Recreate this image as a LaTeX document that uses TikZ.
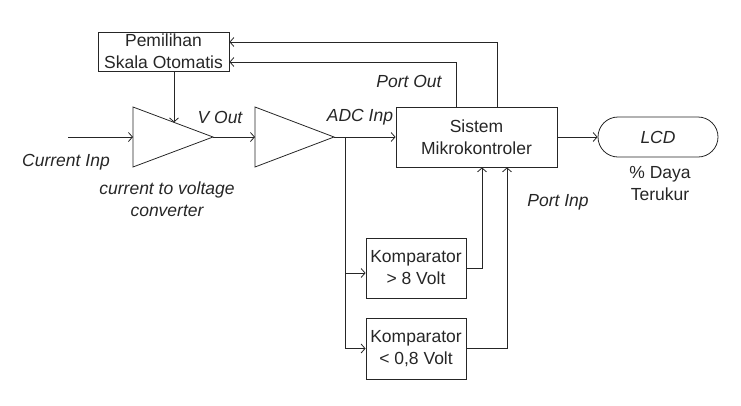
\documentclass[tikz,border=0pt]{standalone}
\usepackage{fontspec}
\setmainfont{Liberation Sans}
\usetikzlibrary{arrows.meta}
\tikzset{
  blok/.style={draw, minimum width=#1, minimum height=60pt, align=center, inner sep=0pt},
  lbl/.style={font=\fontsize{17.5}{22}\selectfont\itshape},
  panah/.style={-{Straight Barb[length=4pt,width=9pt]}}
}
\begin{document}
\begin{tikzpicture}[x=1pt,y=-1pt,line width=0.8pt,color=black!85,
    font=\fontsize{17.5}{22}\selectfont]
    \useasboundingbox (0,0) rectangle (741,405);
    % blok
    \node[blok=131pt, minimum height=39pt] (skala) at (163.5,51.5) {Pemilihan\\Skala Otomatis};
    \node[blok=161pt] (mikro) at (476.5,137) {Sistem\\Mikrokontroler};
    \node[blok=100pt] (komp1) at (416,268) {Komparator\\> 8 Volt};
    \node[blok=100pt, minimum height=61pt] (komp2) at (416,348.5) {Komparator\\< 0,8 Volt};
    \node[draw, rounded corners=20pt, minimum width=120pt, minimum height=40pt] (lcd) at (658,137) {\itshape LCD};
    % penguat
    \coordinate (a1in) at (133,137);
    \coordinate (a1out) at (213,137);
    \coordinate (a2in) at (255,137);
    \coordinate (a2out) at (334,137);
    \draw (133,107) -- (a1out) -- (133,167) -- cycle;
    \draw (255,107) -- (a2out) -- (255,167) -- cycle;
    % label
    \node[lbl] (lblin) at (66,162) {Current Inp};
    \node[lbl, align=center] (lblconv) at (167,199.5) {current to voltage\\converter};
    \node[lbl] (lblvout) at (220,117) {V Out};
    \node[lbl] (lbladc) at (360,117) {ADC Inp};
    \node[lbl] (lblpo) at (409,81) {Port Out};
    \node[lbl] (lblpi) at (558,202) {Port Inp};
    \node[align=center] (lbldaya) at (660,184) {\% Daya\\Terukur};
    % garis
    \coordinate (masuk) at (68,137);
    \coordinate (a1atas) at (174,122.4);
    \coordinate (cabang) at (345,137);
    \draw[panah] (masuk) -- (a1in);
    \draw[panah] (skala.south -| a1atas) -- (a1atas);
    \draw[panah] (a1out) -- (a2in);
    \draw[panah] (a2out) -- (mikro.west);
    \draw[panah] (cabang) |- ([yshift=-5pt]komp1.west);
    \draw[panah] (cabang) |- (komp2.west);
    \draw[panah] (komp1.east) -| ([xshift=5.5pt]mikro.south);
    \draw[panah] (komp2.east) -| ([xshift=30.5pt]mikro.south);
    \draw[panah] ([xshift=-20.5pt]mikro.north) |- ([yshift=-10.5pt]skala.east);
    \draw[panah] ([xshift=20.5pt]mikro.north) |- ([yshift=9.5pt]skala.east);
    \draw[panah] (mikro.east) -- (lcd.west);
\end{tikzpicture}
\end{document}
